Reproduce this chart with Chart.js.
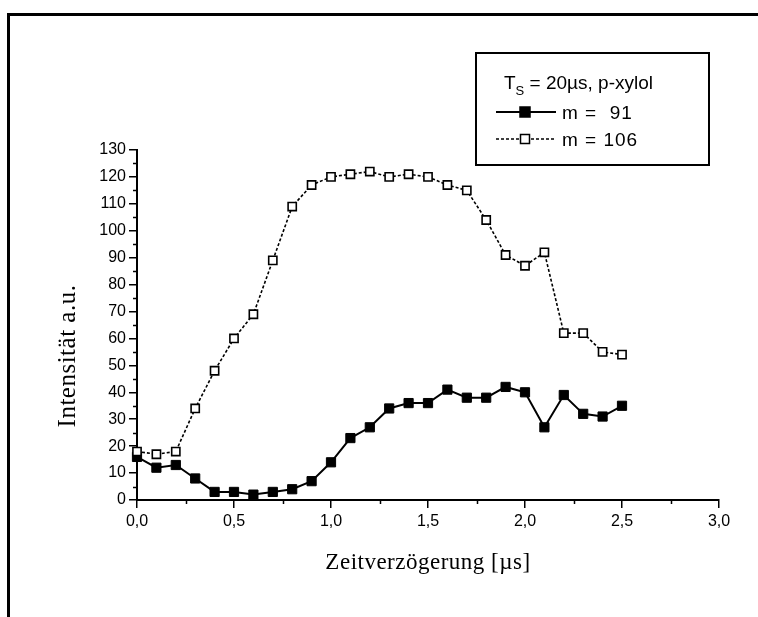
<!DOCTYPE html>
<html lang="de">
<head>
  <meta charset="UTF-8">
  <title>Intensität vs. Zeitverzögerung</title>
  <script src="https://cdn.jsdelivr.net/npm/chart.js"></script>
  <style>
    html, body {
      margin: 0;
      padding: 0;
      background: #fff;
      overflow: hidden;
    }
    #wrap {
      position: relative;
      width: 758px;
      height: 617px;
    }
    #frame {
      position: absolute;
      left: 7px;
      top: 13px;
      width: 800px;
      height: 700px;
      border: 3px solid #000;
      box-sizing: border-box;
    }
    canvas {
      position: absolute;
      left: 0;
      top: 0;
    }
  </style>
</head>
<body>
  <div id="wrap">
    <div id="frame"></div>
    <canvas id="chart" width="758" height="617"></canvas>
  </div>

  <script>
    // Zeitverzögerung in µs
    const delays = [0.0, 0.1, 0.2, 0.3, 0.4, 0.5, 0.6, 0.7, 0.8, 0.9, 1.0, 1.1, 1.2,
                    1.3, 1.4, 1.5, 1.6, 1.7, 1.8, 1.9, 2.0, 2.1, 2.2, 2.3, 2.4, 2.5];
    const m91 = [16, 12, 13, 8, 3, 3, 2, 3, 4, 7, 14, 23, 27,
                 34, 36, 36, 41, 38, 38, 42, 40, 27, 39, 32, 31, 35];
    const m106 = [18, 17, 18, 34, 48, 60, 69, 89, 109, 117, 120, 121, 122,
                  120, 121, 120, 117, 115, 104, 91, 87, 92, 62, 62, 55, 54];
    const xTicks = [0, 0.5, 1.0, 1.5, 2.0, 2.5, 3.0];
    const yTicks = [0, 10, 20, 30, 40, 50, 60, 70, 80, 90, 100, 110, 120, 130];
    const legendTitle = ['T', 'S', ' = 20µs, p-xylol'];
    const labels = ['m =  91', 'm = 106'];

    const sans = '"Liberation Sans", Arial, sans-serif';
    const serif = '"Liberation Serif", "Times New Roman", serif';

    const toPoints = ys => delays.map((x, i) => ({ x: x, y: ys[i] }));

    // minor ticks halfway between the major ones
    const minors = ticks => ticks.slice(1).map((v, i) => (v + ticks[i]) / 2);

    const extras = {
      id: 'extras',
      afterDraw(chart) {
        const ctx = chart.ctx;
        const xs = chart.scales.x, ys = chart.scales.y;
        const area = chart.chartArea;

        ctx.save();
        ctx.strokeStyle = '#000';
        ctx.lineWidth = 1.5;
        ctx.beginPath();
        minors(yTicks).forEach(v => {
          const py = Math.round(ys.getPixelForValue(v)) + 0.5;
          ctx.moveTo(area.left - 4, py);
          ctx.lineTo(area.left, py);
        });
        minors(xTicks).forEach(v => {
          const px = Math.round(xs.getPixelForValue(v)) + 0.5;
          ctx.moveTo(px, area.bottom);
          ctx.lineTo(px, area.bottom + 4);
        });
        ctx.stroke();

        // axis titles
        ctx.fillStyle = '#000';
        ctx.font = '23px ' + serif;
        ctx.textAlign = 'center';
        ctx.textBaseline = 'alphabetic';
        ctx.letterSpacing = '0.5px';
        ctx.fillText('Zeitverzögerung [µs]', (area.left + area.right) / 2, 569);

        ctx.save();
        ctx.font = '25px ' + serif;
        ctx.translate(75, 356);
        ctx.rotate(-Math.PI / 2);
        ctx.fillText('Intensität a.u.', 0, 0);
        ctx.restore();
        ctx.letterSpacing = '0px';

        // legend box
        ctx.lineWidth = 2;
        ctx.strokeRect(476, 53, 233, 112);

        ctx.textAlign = 'left';
        ctx.font = '19px ' + sans;
        let tx = 504;
        ctx.fillText(legendTitle[0], tx, 89);
        tx += ctx.measureText(legendTitle[0]).width;
        ctx.font = '13px ' + sans;
        ctx.fillText(legendTitle[1], tx, 95);
        tx += ctx.measureText(legendTitle[1]).width;
        ctx.font = '19px ' + sans;
        ctx.fillText(legendTitle[2], tx, 89);

        const rows = [
          { y: 112, dash: [], width: 2, fill: '#000', size: 10 },
          { y: 139, dash: [3, 2], width: 1.6, fill: '#fff', size: 9 }
        ];
        ctx.letterSpacing = '1px';
        rows.forEach((r, i) => {
          ctx.setLineDash(r.dash);
          ctx.lineWidth = r.width;
          ctx.beginPath();
          ctx.moveTo(496, r.y);
          ctx.lineTo(556, r.y);
          ctx.stroke();
          ctx.setLineDash([]);
          ctx.fillStyle = r.fill;
          ctx.fillRect(525 - r.size / 2, r.y - r.size / 2, r.size, r.size);
          ctx.lineWidth = 1.5;
          ctx.strokeRect(525 - r.size / 2, r.y - r.size / 2, r.size, r.size);
          ctx.fillStyle = '#000';
          ctx.fillText(labels[i], 562, r.y + 7);
        });
        ctx.restore();
      }
    };

    new Chart(document.getElementById('chart'), {
      type: 'line',
      data: {
        datasets: [
          {
            label: labels[0],
            data: toPoints(m91),
            borderColor: '#000',
            borderWidth: 2,
            pointStyle: 'rect',
            pointRadius: 6.5,
            pointBackgroundColor: '#000',
            pointBorderColor: '#000',
            pointBorderWidth: 1,
            tension: 0,
            clip: false,
            order: 1
          },
          {
            label: labels[1],
            data: toPoints(m106),
            borderColor: '#000',
            borderWidth: 1.6,
            borderDash: [3, 2],
            pointStyle: 'rect',
            pointRadius: 5.8,
            pointBackgroundColor: '#fff',
            pointBorderColor: '#000',
            pointBorderWidth: 1.6,
            tension: 0,
            clip: false,
            order: 0
          }
        ]
      },
      options: {
        responsive: false,
        animation: false,
        layout: { padding: { top: 150, right: 39, left: 0, bottom: 0 } },
        plugins: {
          legend: { display: false },
          tooltip: { enabled: false }
        },
        scales: {
          x: {
            type: 'linear',
            min: 0,
            max: 3,
            afterBuildTicks: s => { s.ticks = xTicks.map(v => ({ value: v })); },
            afterFit: s => { s.height = 117; },
            ticks: {
              color: '#000',
              font: { family: sans, size: 16 },
              padding: 4,
              maxRotation: 0,
              callback: v => v.toFixed(1).replace('.', ',')
            },
            grid: { drawOnChartArea: false, drawTicks: true, tickLength: 8, color: '#000', lineWidth: 1.5 },
            border: { color: '#000', width: 2 }
          },
          y: {
            min: 0,
            max: 130,
            afterBuildTicks: s => { s.ticks = yTicks.map(v => ({ value: v })); },
            afterFit: s => { s.width = 137; },
            ticks: {
              color: '#000',
              font: { family: sans, size: 16 },
              padding: 3
            },
            grid: { drawOnChartArea: false, drawTicks: true, tickLength: 8, color: '#000', lineWidth: 1.5 },
            border: { color: '#000', width: 2 }
          }
        }
      },
      plugins: [extras]
    });
  </script>
</body>
</html>
